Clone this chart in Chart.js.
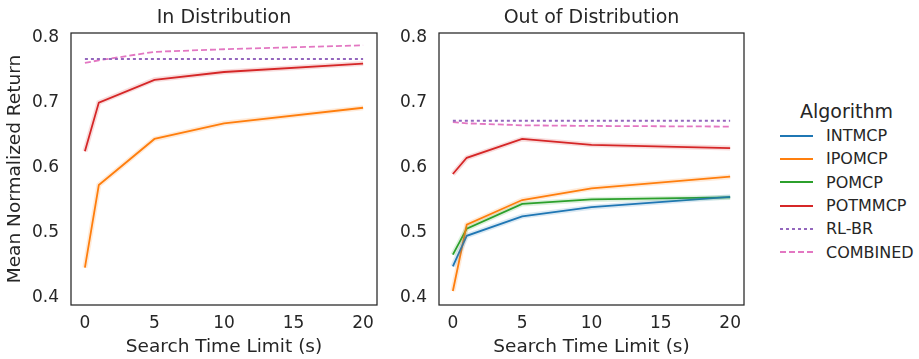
<!DOCTYPE html>
<html>
<head>
<meta charset="utf-8">
<script src="https://cdn.jsdelivr.net/npm/chart.js@4"></script>
<style>
  body { margin: 0; background: #fff; font-family: "DejaVu Sans", sans-serif; color: #262626; }
  #wrap { position: relative; width: 919px; height: 359px; }
  .panel { position: absolute; top: 0; height: 359px; }
  #legend { position: absolute; left: 770px; top: 98px; width: 149px; }
  #legend h4 { margin: 0 0 0 30px; font-weight: normal; font-size: 19px; height: 26px; line-height: 26px; }
  .row { height: 23.3px; display: flex; align-items: center; font-size: 16px; }
  .row svg { margin: 0 13px 0 10px; }
</style>
</head>
<body>
<div id="wrap">
  <div class="panel" style="left:0;width:385px"><canvas id="inDist"></canvas></div>
  <div class="panel" style="left:385px;width:375px"><canvas id="outDist"></canvas></div>
  <div id="legend"><h4>Algorithm</h4></div>
</div>
<script>
// ---------- data ----------
const times = [0, 1, 5, 10, 20];
const xTicks = [0, 5, 10, 15, 20];
const yTicks = [0.4, 0.5, 0.6, 0.7, 0.8];
const algorithms = ['INTMCP', 'IPOMCP', 'POMCP', 'POTMMCP', 'RL-BR', 'COMBINED'];

// in distribution
const inIPOMCP   = [0.446, 0.573, 0.644, 0.668, 0.692];
const inPOTMMCP  = [0.625, 0.700, 0.735, 0.747, 0.760];
const inRLBR     = [0.767, 0.767, 0.767, 0.767, 0.767];
const inCOMBINED = [0.761, 0.765, 0.778, 0.782, 0.788];

// out of distribution
const outINTMCP   = [0.448, 0.495, 0.525, 0.539, 0.555];
const outIPOMCP   = [0.410, 0.512, 0.550, 0.568, 0.586];
const outPOMCP    = [0.466, 0.506, 0.544, 0.551, 0.554];
const outPOTMMCP  = [0.590, 0.615, 0.644, 0.635, 0.630];
const outRLBR     = [0.672, 0.672, 0.672, 0.672, 0.672];
const outCOMBINED = [0.670, 0.668, 0.665, 0.664, 0.663];

// ---------- styles ----------
const colors = {
  'INTMCP': '#1f77b4', 'IPOMCP': '#ff7f0e', 'POMCP': '#2ca02c',
  'POTMMCP': '#d62728', 'RL-BR': '#9467bd', 'COMBINED': '#e377c2'
};
const dashes = { 'RL-BR': [3, 3], 'COMBINED': [6, 3] };
const ink = '#262626';

function pts(vals) {
  return vals.map((v, i) => ({ x: times[i], y: v }));
}

function hexA(hex, a) {
  const n = parseInt(hex.slice(1), 16);
  return `rgba(${n >> 16},${(n >> 8) & 255},${n & 255},${a})`;
}

function buildSets(series) {
  const sets = [];
  // faint band under each line
  series.forEach(([name, vals]) => {
    if (dashes[name]) return;
    sets.push({ data: pts(vals), borderColor: hexA(colors[name], 0.16), borderWidth: 5,
      pointRadius: 0, tension: 0, fill: false });
  });
  series.forEach(([name, vals]) => {
    sets.push({ label: name, data: pts(vals), borderColor: colors[name], borderWidth: 1.8,
      borderDash: dashes[name] || [], pointRadius: 0, tension: 0, fill: false });
  });
  return sets;
}

const boxPlugin = {
  id: 'box',
  afterDraw(chart) {
    const { ctx, chartArea: a } = chart;
    ctx.save();
    ctx.strokeStyle = ink;
    ctx.lineWidth = 1.25;
    ctx.strokeRect(a.left, a.top, a.right - a.left, a.bottom - a.top);
    ctx.restore();
  }
};

function makeChart(id, title, series, opts) {
  const canvas = document.getElementById(id);
  return new Chart(canvas, {
    type: 'line',
    data: { datasets: buildSets(series) },
    plugins: [boxPlugin],
    options: {
      animation: false,
      responsive: false,
      devicePixelRatio: 1,
      layout: { padding: { left: 0, right: opts.padRight, top: 0, bottom: 0 } },
      plugins: {
        legend: { display: false },
        tooltip: { enabled: false },
        title: { display: true, text: title, color: ink, fullSize: false,
          font: { family: 'DejaVu Sans', size: 19, weight: 'normal' },
          padding: { top: 7, bottom: 3.2 } }
      },
      scales: {
        x: {
          type: 'linear', min: -1, max: 21,
          afterBuildTicks: s => { s.ticks = xTicks.map(v => ({ value: v })); },
          afterFit: s => { s.height = 54; },
          grid: { display: false, drawTicks: false },
          border: { display: false },
          ticks: { color: ink, padding: 8, font: { family: 'DejaVu Sans', size: 17 } },
          title: { display: true, text: 'Search Time Limit (s)', color: ink,
            padding: { top: 0, bottom: 1 }, font: { family: 'DejaVu Sans', size: 18.5 } }
        },
        y: {
          min: 0.3885, max: 0.807,
          afterBuildTicks: s => { s.ticks = yTicks.map(v => ({ value: v })); },
          afterFit: s => { s.width = opts.yWidth; },
          grid: { display: false, drawTicks: false },
          border: { display: false },
          ticks: { color: ink, padding: 12, font: { family: 'DejaVu Sans', size: 17 },
            callback: v => v.toFixed(1) },
          title: { display: opts.yTitle, text: 'Mean Normalized Return', color: ink,
            padding: { top: 4, bottom: 0 }, font: { family: 'DejaVu Sans', size: 18.5 } }
        }
      }
    }
  });
}

function sizeCanvas(id, w) {
  const c = document.getElementById(id);
  c.width = w; c.height = 359;
  c.style.width = w + 'px'; c.style.height = '359px';
}

sizeCanvas('inDist', 385);
sizeCanvas('outDist', 375);

makeChart('inDist', 'In Distribution', [
  ['IPOMCP', inIPOMCP], ['POTMMCP', inPOTMMCP], ['RL-BR', inRLBR], ['COMBINED', inCOMBINED]
], { padRight: 8, yWidth: 71, yTitle: true });

makeChart('outDist', 'Out of Distribution', [
  ['INTMCP', outINTMCP], ['IPOMCP', outIPOMCP], ['POMCP', outPOMCP],
  ['POTMMCP', outPOTMMCP], ['RL-BR', outRLBR], ['COMBINED', outCOMBINED]
], { padRight: 16, yWidth: 54, yTitle: false });

// ---------- legend ----------
const legend = document.getElementById('legend');
algorithms.forEach(name => {
  const row = document.createElement('div');
  row.className = 'row';
  const d = dashes[name] ? `stroke-dasharray="${dashes[name].join(',')}"` : '';
  row.innerHTML = `<svg width="33" height="4"><line x1="0" y1="2" x2="33" y2="2"
      stroke="${colors[name]}" stroke-width="2" ${d}/></svg><span>${name}</span>`;
  legend.appendChild(row);
});
</script>
</body>
</html>
